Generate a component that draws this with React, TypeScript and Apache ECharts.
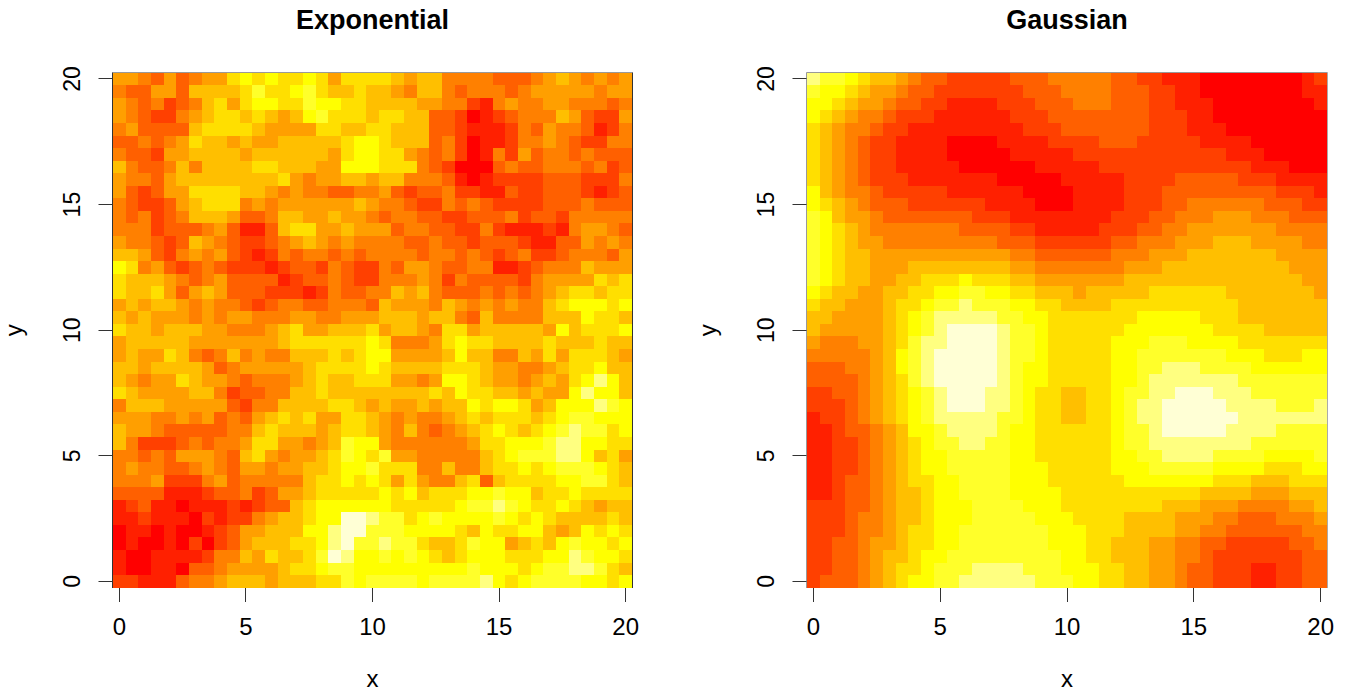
import React, { useEffect, useRef } from "react";
import * as echarts from "echarts";

const exponentialRows: string[] = [
  "5 5 4 3 5 3 4 5 5 7 8 7 8 7 7 8 7 5 7 7 7 7 6 5 6 6 4 4 4 4 3 3 3 4 5 6 5 4 5 4 5",
  "4 3 3 5 5 3 6 6 6 6 7 9 7 7 8 9 7 6 6 7 6 6 5 4 6 6 4 3 4 4 4 3 4 5 5 5 5 5 4 5 5",
  "5 4 3 4 2 3 4 6 7 5 7 8 8 7 7 9 8 8 7 7 6 6 6 6 5 5 4 4 2 1 4 5 4 4 5 5 4 4 4 3 4",
  "5 4 3 2 2 4 5 6 7 7 6 7 6 5 6 8 9 7 7 7 6 7 7 6 6 3 3 2 0 1 2 3 4 4 4 6 5 3 2 2 5",
  "4 5 3 3 3 3 6 7 7 7 7 6 5 5 5 5 7 7 6 6 7 7 6 6 6 3 3 2 1 1 1 2 4 3 5 4 4 3 1 2 4",
  "3 3 4 3 4 5 7 6 6 5 6 5 5 6 6 6 6 6 7 8 8 7 6 6 6 3 4 2 0 1 1 2 4 4 5 4 3 2 2 4 4",
  "4 3 3 2 5 5 6 6 6 6 5 6 6 6 6 6 6 5 7 8 8 7 7 5 4 3 4 2 0 1 4 2 5 3 4 4 3 4 3 3 3",
  "6 4 3 3 4 6 4 6 6 6 6 7 7 6 6 6 5 5 8 8 8 7 7 7 4 3 2 0 0 0 3 4 3 3 4 4 4 3 4 2 3",
  "5 4 4 3 5 6 6 6 6 6 6 6 6 7 5 4 5 5 6 6 5 6 6 4 4 4 3 1 0 1 2 2 2 2 3 3 3 2 2 2 4",
  "5 3 2 3 5 5 7 7 7 7 6 6 5 4 5 4 4 3 3 4 4 5 3 2 3 3 4 2 2 1 1 3 2 2 3 3 3 2 1 2 3",
  "4 3 2 2 3 5 6 7 7 7 4 5 4 5 5 5 5 5 5 6 5 4 4 3 2 2 4 3 4 3 2 2 2 2 3 3 3 4 3 3 3",
  "4 3 4 2 3 4 6 6 6 5 3 3 4 6 6 5 5 6 5 5 4 3 4 4 3 3 2 2 3 3 3 4 2 3 3 2 4 4 4 4 4",
  "4 4 4 2 3 3 3 4 5 3 1 1 3 6 7 7 5 5 6 5 5 5 3 4 4 3 3 2 2 4 2 1 1 1 2 1 4 5 5 4 3",
  "5 4 4 3 2 3 6 5 4 3 2 2 3 4 5 6 5 4 5 4 4 4 4 3 3 4 3 3 2 3 3 3 2 1 1 3 3 5 4 5 4",
  "6 6 5 3 2 4 5 4 5 3 2 1 2 4 3 4 4 3 4 3 4 4 4 4 3 4 4 3 4 3 2 3 4 2 2 3 4 4 4 3 5",
  "8 7 4 5 3 2 3 4 3 2 2 2 1 2 3 3 2 4 3 2 2 4 3 5 5 4 3 3 4 4 1 1 2 3 4 4 4 6 5 5 5",
  "7 6 6 6 5 4 3 4 5 3 3 3 3 1 2 3 3 4 3 2 2 4 4 4 5 4 2 4 3 3 3 3 2 4 5 5 5 5 7 6 7",
  "7 6 6 7 5 3 5 6 5 3 3 3 2 2 2 1 2 4 3 3 4 4 6 5 6 4 3 3 3 4 3 4 3 4 5 6 7 7 6 7 7",
  "5 6 5 6 6 5 4 5 4 4 3 2 3 4 4 3 3 4 4 4 3 6 5 5 5 4 6 5 4 5 4 5 4 4 6 7 8 8 8 7 8",
  "6 5 6 5 5 5 4 5 4 5 5 4 4 4 5 5 4 4 5 5 5 6 6 6 5 6 6 4 3 6 4 4 4 4 6 6 6 8 7 7 6",
  "7 6 6 5 6 6 6 5 5 4 4 4 5 6 7 5 5 6 6 6 7 5 6 6 5 4 7 7 5 6 6 6 6 6 5 8 6 7 7 7 8",
  "5 6 6 6 6 6 5 5 5 5 5 5 5 6 7 7 7 7 7 7 8 7 4 4 4 5 7 8 7 7 6 6 6 6 7 6 6 6 7 6 6",
  "5 6 5 5 7 6 4 3 4 6 4 5 4 4 6 6 6 7 6 7 8 8 5 5 5 5 6 8 6 6 4 4 6 5 7 5 7 7 7 6 5",
  "6 6 5 6 6 6 6 5 3 4 5 5 5 5 5 6 7 7 7 7 8 7 6 6 6 6 7 7 7 6 5 5 4 4 5 6 7 7 8 6 6",
  "6 5 4 5 5 7 6 5 5 4 3 4 4 4 5 6 7 6 6 7 7 7 5 5 4 5 8 8 7 6 5 5 4 5 6 5 7 8 a 8 6",
  "7 6 5 5 5 5 6 6 4 2 3 3 4 4 6 6 7 6 6 6 6 6 6 6 6 7 6 8 7 7 6 6 5 6 5 5 8 a 8 8 6",
  "4 6 6 6 5 5 5 5 5 3 2 4 4 6 6 6 6 7 7 6 5 6 5 5 6 5 6 6 8 7 8 8 7 5 6 8 8 8 a 9 8",
  "5 5 5 4 4 5 4 5 3 4 3 5 6 7 6 7 5 5 7 7 6 5 4 5 4 4 5 6 7 6 7 7 7 6 7 8 9 9 8 8 8",
  "6 5 5 4 3 3 3 3 3 4 4 6 7 6 6 6 5 6 7 7 6 5 4 6 4 3 4 5 6 7 8 7 6 7 8 9 a 9 9 7 8",
  "6 4 2 2 2 3 4 3 4 4 5 7 7 5 5 4 5 6 9 8 8 5 4 4 4 4 4 4 5 7 7 8 8 8 9 a a 8 8 7 7",
  "4 4 3 4 3 5 5 5 4 3 6 7 5 4 5 5 6 7 9 8 7 9 5 5 4 4 4 4 4 6 7 8 9 9 9 a a 8 6 7 5",
  "4 5 4 4 3 3 4 5 4 3 5 5 4 5 5 6 6 7 8 8 9 7 7 7 4 4 6 4 4 6 7 7 8 7 8 9 9 9 8 7 6",
  "4 4 4 5 2 2 2 4 5 3 4 4 4 4 4 6 7 7 8 7 8 7 5 7 5 4 4 6 7 3 6 7 7 7 7 8 8 9 9 7 6",
  "3 3 3 3 1 1 1 2 3 3 4 2 3 5 5 6 7 7 7 7 7 8 7 8 6 7 7 7 8 8 9 8 8 6 7 7 8 7 7 7 7",
  "1 2 3 1 1 0 1 1 1 2 1 2 3 3 6 7 8 8 8 8 8 8 7 7 7 7 7 8 9 9 a 9 8 7 7 8 7 6 5 6 6",
  "1 1 2 1 1 1 0 2 1 2 2 4 5 6 6 7 8 8 b b a 9 9 7 8 9 8 8 8 8 9 8 7 8 7 6 6 6 6 7 6",
  "0 1 1 0 1 0 0 1 2 3 5 5 6 6 6 8 8 a b b 9 9 9 8 8 8 8 7 6 8 7 7 8 8 6 5 6 8 7 8 7",
  "0 1 0 0 1 0 2 0 2 3 5 6 6 6 7 7 8 a b 9 9 a 9 9 7 6 6 7 9 8 8 5 6 7 6 8 9 8 8 7 8",
  "1 0 0 1 1 1 1 2 4 4 6 5 7 6 6 7 9 b a 8 8 9 8 9 8 7 6 7 8 8 8 7 7 7 8 8 a 9 8 8 7",
  "1 0 0 1 1 0 3 3 4 5 5 5 5 6 7 7 8 9 9 8 8 8 8 8 8 8 8 8 9 8 8 8 7 8 9 9 a a 9 7 6",
  "2 2 1 1 1 3 4 4 5 6 6 6 5 6 6 6 7 7 9 8 9 9 9 9 8 9 9 9 9 a 8 7 8 9 9 9 9 8 8 7 8",
];

const gaussianRows: string[] = [
  "a 9 9 8 7 6 6 5 4 3 3 2 2 2 2 2 3 3 3 4 4 4 4 4 3 3 2 2 1 1 1 0 0 0 0 0 0 0 0 1 2",
  "9 8 8 7 6 5 5 4 3 3 2 2 2 2 2 2 2 3 3 3 4 4 4 4 3 3 3 2 2 1 1 0 0 0 0 0 0 0 0 1 1",
  "8 8 7 6 5 5 4 3 3 2 2 1 1 1 1 2 2 2 3 3 3 4 4 4 3 3 3 2 2 1 1 1 0 0 0 0 0 0 0 0 1",
  "8 7 6 5 4 4 3 2 2 2 1 1 1 1 1 1 2 2 2 3 3 3 3 3 3 3 3 2 2 2 1 1 0 0 0 0 0 0 0 0 0",
  "7 6 5 4 4 3 2 2 1 1 1 1 1 1 1 1 1 2 2 2 3 3 3 3 3 3 3 2 2 2 1 1 1 0 0 0 0 0 0 0 0",
  "7 6 5 4 3 2 2 1 1 1 1 0 0 0 0 1 1 1 1 2 2 2 2 3 3 3 2 2 2 2 2 1 1 1 1 0 0 0 0 0 0",
  "7 6 5 4 3 2 2 1 1 1 1 0 0 0 0 0 1 1 1 1 1 2 2 2 2 2 2 2 2 2 2 2 2 1 1 1 0 0 0 0 0",
  "7 6 5 4 3 2 2 1 1 1 1 1 0 0 0 0 0 0 1 1 1 1 1 2 2 2 2 2 2 2 2 2 2 2 2 1 1 1 0 0 0",
  "7 6 5 4 3 2 2 2 1 1 1 1 1 1 1 0 0 0 0 0 1 1 1 1 1 2 2 2 2 3 3 3 3 3 2 2 2 1 1 1 1",
  "8 6 5 4 4 3 2 2 2 2 2 1 1 1 1 1 1 0 0 0 0 1 1 1 1 2 2 2 3 3 3 3 3 3 3 3 3 2 2 2 1",
  "8 7 6 5 4 3 3 3 2 2 2 2 2 2 1 1 1 1 0 0 0 1 1 1 1 2 2 2 3 3 4 4 4 4 4 4 3 3 3 2 2",
  "9 8 6 5 5 4 3 3 3 3 3 3 3 2 2 2 1 1 1 1 1 1 1 1 2 2 2 3 3 4 4 4 5 5 5 4 4 4 3 3 3",
  "9 8 7 6 5 4 4 4 4 4 4 4 3 3 3 3 2 2 1 1 1 1 1 2 2 2 3 3 4 4 5 5 5 5 5 5 5 4 4 4 4",
  "9 8 7 6 5 5 4 4 4 4 4 4 4 4 4 3 3 3 2 2 2 2 2 2 3 3 4 4 4 5 5 5 6 6 6 5 5 5 5 4 4",
  "9 8 7 6 6 5 5 5 5 5 5 5 5 5 5 5 4 4 3 3 3 3 3 3 4 4 4 5 5 5 6 6 6 6 6 6 6 5 5 5 5",
  "9 8 7 6 6 5 5 5 6 6 6 6 6 6 6 6 5 5 4 4 4 4 4 4 4 5 5 5 6 6 6 6 6 6 6 6 6 6 5 5 5",
  "9 8 7 6 6 5 5 6 6 7 7 7 8 7 7 7 6 6 5 5 5 5 5 5 5 6 6 6 6 6 6 6 6 6 6 6 6 6 6 5 5",
  "8 7 6 6 5 5 6 6 7 7 8 8 9 9 8 8 7 7 6 6 6 5 6 6 6 6 6 7 7 7 7 7 7 6 6 6 6 6 6 6 5",
  "7 6 6 5 5 5 6 7 7 8 9 9 a 9 9 9 8 8 7 7 6 6 6 6 7 7 7 7 7 7 7 7 7 7 6 6 6 6 6 6 6",
  "6 6 5 5 5 5 6 7 8 9 a a a a a 9 9 8 8 7 7 7 7 7 7 7 8 8 8 8 8 7 7 7 6 6 6 6 6 6 6",
  "6 5 5 5 5 5 6 7 8 9 a b b b b a 9 9 8 7 7 7 7 7 7 8 8 8 8 8 8 8 7 7 7 7 6 6 6 6 6",
  "5 4 4 4 5 5 6 7 9 a a b b b b a 9 9 8 7 7 7 7 7 8 8 8 9 9 9 8 8 8 8 7 7 7 7 7 7 7",
  "4 4 4 4 4 5 6 8 9 a b b b b b a 9 9 8 7 7 7 7 7 8 8 9 9 9 9 9 9 9 8 8 8 7 7 7 8 8",
  "3 3 3 4 4 5 6 8 9 a b b b b b a 9 8 8 7 7 7 7 7 8 8 9 9 a a a 9 9 9 9 8 8 8 8 8 8",
  "3 3 3 3 4 5 6 7 9 a b b b b b a 9 8 8 7 7 7 7 7 8 8 9 a a a a a a a 9 9 9 9 9 9 9",
  "2 2 3 3 4 5 6 7 8 9 a b b b a a 9 8 7 7 6 6 7 7 8 9 9 a a b b b a a a 9 9 9 9 9 9",
  "2 2 2 3 4 5 6 7 8 9 a b b b a a 9 8 7 7 6 6 7 7 8 9 a a b b b b b a a a a 9 9 9 a",
  "1 2 2 3 4 5 6 7 8 9 a a a a a 9 9 8 7 7 6 6 7 7 8 9 a a b b b b b b a a a a a a a",
  "1 1 2 3 3 4 5 6 8 8 9 a a a a 9 8 8 7 7 7 7 7 7 8 9 9 a b b b b b a a a a 9 9 9 9",
  "1 1 2 2 3 4 5 6 7 8 9 9 a a 9 9 8 8 7 7 7 7 7 7 8 9 9 a a a a a a a a 9 9 9 9 9 9",
  "1 1 2 2 3 4 5 6 7 8 8 9 9 9 9 9 8 8 7 7 7 7 7 7 8 8 9 9 a a a a 9 9 9 9 8 8 8 8 9",
  "1 1 2 2 3 4 5 6 7 8 8 9 9 9 9 9 8 8 8 7 7 7 7 7 8 8 8 9 9 9 9 9 8 8 8 8 7 7 7 8 8",
  "1 1 2 3 3 4 5 6 7 7 8 8 9 9 9 9 8 8 8 7 7 7 7 7 7 8 8 8 8 8 8 8 7 7 7 6 6 6 7 7 7",
  "1 1 2 3 3 4 5 6 6 7 8 8 9 9 9 9 8 8 8 8 7 7 7 7 7 7 7 7 7 7 7 6 6 6 6 5 5 5 6 6 6",
  "2 2 2 3 3 4 5 6 6 7 8 8 8 9 9 9 9 8 8 8 7 7 7 7 7 7 7 7 6 6 6 5 5 5 4 4 4 4 5 5 6",
  "2 2 2 3 4 4 5 6 6 7 8 8 8 9 9 9 9 9 8 8 8 7 7 7 7 6 6 6 6 5 5 5 4 4 3 3 3 4 4 4 5",
  "2 2 2 3 4 4 5 6 7 7 8 8 9 9 9 9 9 9 9 8 8 8 7 7 7 6 6 6 6 5 5 4 4 3 3 3 3 3 3 4 4",
  "2 2 3 3 4 5 5 6 7 7 8 8 9 9 9 9 9 9 9 8 8 8 7 7 6 6 6 5 5 4 4 3 3 2 2 2 2 2 3 3 4",
  "2 2 3 3 4 5 6 6 7 8 8 9 9 9 9 9 9 9 9 9 8 8 7 7 6 6 6 5 5 4 4 3 2 2 2 2 2 2 2 3 3",
  "2 2 3 3 4 5 6 7 7 8 9 9 9 a a a a 9 9 9 8 8 8 7 7 6 6 5 5 4 3 3 2 2 2 1 1 2 2 3 3",
  "2 3 3 3 4 5 6 7 8 8 9 9 a a a a a a 9 9 9 8 8 7 7 6 6 5 5 4 3 3 2 2 2 1 1 2 2 3 3",
];

const levelColors = [
  "#FF0000", "#FF2000", "#FF4000", "#FF6000", "#FF8000", "#FF9F00",
  "#FFBF00", "#FFDF00", "#FFFF00", "#FFFF2A", "#FFFF80", "#FFFFD5",
];
const tickValues = [0, 5, 10, 15, 20];
const panelTitles = ["Exponential", "Gaussian"];
const edgeColors = [
  { left: "#333333", right: "#333333" },
  { left: "#999999", right: "#aaaaaa" },
];

const toCells = (rows: string[]) => {
  const out: number[][] = [];
  rows.forEach((row, r) => {
    row.split(" ").forEach((c, k) => out.push([k * 0.5, 20 - r * 0.5, parseInt(c, 16)]));
  });
  return out;
};

const FONT = "'Liberation Sans', Arial, sans-serif";
const AXIS_MIN = -0.25;
const AXIS_MAX = 20.25;
const TICK_LEN = 14;

const renderCell = (_p: any, api: any) => {
  const x = api.value(0);
  const y = api.value(1);
  const a = api.coord([x - 0.25, y + 0.25]);
  const b = api.coord([x + 0.25, y - 0.25]);
  const l = Math.round(a[0]);
  const t = Math.round(a[1]);
  return {
    type: "rect",
    shape: { x: l, y: t, width: Math.round(b[0]) - l, height: Math.round(b[1]) - t },
    style: { fill: levelColors[api.value(2)] },
  };
};

const renderFrame = (panel: number) => (_p: any, api: any) => {
  const tl = api.coord([AXIS_MIN, AXIS_MAX]);
  const br = api.coord([AXIS_MAX, AXIS_MIN]);
  const l = Math.round(tl[0]) - 0.5;
  const t = Math.round(tl[1]) - 0.5;
  const r = Math.round(br[0]) + 0.5;
  const b = Math.round(br[1]);
  const edge = edgeColors[panel];
  const tickStyle = { stroke: "#333333", lineWidth: 1 };
  const ticks: any[] = [];
  tickValues.forEach((v) => {
    const px = Math.floor(api.coord([v, AXIS_MIN])[0]) + 0.5;
    const py = Math.floor(api.coord([AXIS_MIN, v])[1]) + 0.5;
    ticks.push({ type: "line", shape: { x1: px, y1: b, x2: px, y2: b + TICK_LEN }, style: tickStyle });
    ticks.push({ type: "line", shape: { x1: l - TICK_LEN, y1: py, x2: l, y2: py }, style: tickStyle });
  });
  return {
    type: "group",
    children: [
      { type: "line", shape: { x1: l, y1: t, x2: r, y2: t }, style: { stroke: "#999999", lineWidth: 1 } },
      { type: "line", shape: { x1: l, y1: t, x2: l, y2: b }, style: { stroke: edge.left, lineWidth: 1 } },
      { type: "line", shape: { x1: r, y1: t, x2: r, y2: b }, style: { stroke: edge.right, lineWidth: 1 } },
      ...ticks,
    ],
  };
};

export default function App() {
  const ref = useRef<HTMLDivElement>(null);
  useEffect(() => {
    const chart = echarts.init(ref.current!, undefined, { renderer: "svg" });
    const grids = [
      { left: 113, top: 72.7, width: 519, height: 515, outerBoundsMode: "none" },
      { left: 807, top: 72.7, width: 520, height: 515, outerBoundsMode: "none" },
    ];
    const label = { color: "#000", fontFamily: FONT };
    const xAxes = grids.map((_, i) => ({
      type: "value",
      gridIndex: i,
      min: AXIS_MIN,
      max: AXIS_MAX,
      splitLine: { show: false },
      axisLine: { show: false },
      axisTick: { show: false },
      axisLabel: { ...label, fontSize: 24, customValues: tickValues, margin: 27, showMinLabel: true, showMaxLabel: true },
      name: "x",
      nameLocation: "middle",
      nameGap: 79,
      nameTextStyle: { ...label, fontSize: 24 },
    }));
    const yAxes = grids.map((_, i) => ({
      type: "value",
      gridIndex: i,
      min: AXIS_MIN,
      max: AXIS_MAX,
      splitLine: { show: false },
      axisLine: { show: false },
      axisTick: { show: false },
      axisLabel: { ...label, fontSize: 23, customValues: tickValues, rotate: 90, margin: 41, showMinLabel: true, showMaxLabel: true, verticalAlign: "middle", align: "center" },
      name: "y",
      nameLocation: "middle",
      nameGap: 88,
      nameRotate: 90,
      nameTextStyle: { ...label, fontSize: 24 },
    }));
    const heat = [exponentialRows, gaussianRows].map((rows, i) => ({
      type: "custom",
      coordinateSystem: "cartesian2d",
      xAxisIndex: i,
      yAxisIndex: i,
      renderItem: renderCell,
      data: toCells(rows),
      encode: { x: 0, y: 1 },
      silent: true,
      progressive: 0,
      clip: false,
      z: 2,
    }));
    const frames = grids.map((_, i) => ({
      type: "custom",
      coordinateSystem: "cartesian2d",
      xAxisIndex: i,
      yAxisIndex: i,
      renderItem: renderFrame(i),
      data: [[0, 0]],
      silent: true,
      clip: false,
      z: 3,
    }));
    chart.setOption({
      animation: false,
      backgroundColor: "#fff",
      title: panelTitles.map((t, i) => ({
        text: t,
        left: i === 0 ? 367.5 : 1062,
        top: 1,
        textAlign: "center",
        textStyle: { color: "#000", fontFamily: FONT, fontWeight: "bold", fontSize: 27 },
      })),
      grid: grids,
      xAxis: xAxes,
      yAxis: yAxes,
      series: [...heat, ...frames],
    });
    return () => chart.dispose();
  }, []);
  return <div ref={ref} style={{ position: "fixed", left: 0, top: 0, width: 1346, height: 694 }} />;
}
